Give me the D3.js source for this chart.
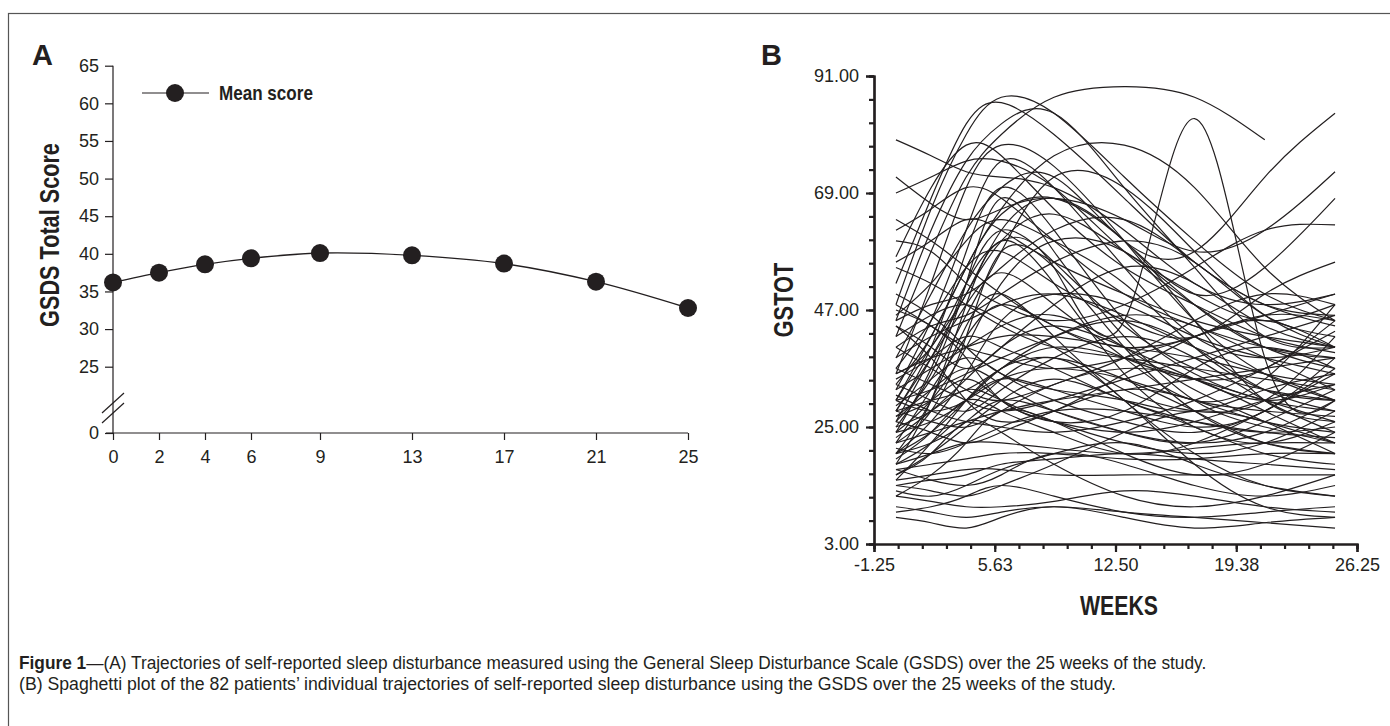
<!DOCTYPE html>
<html>
<head>
<meta charset="utf-8">
<script src="https://cdn.jsdelivr.net/npm/d3@7"></script>
<style>
  body { margin: 0; background: #fff; }
  svg { display: block; }
  text { fill: #231f20; font-family: "Liberation Sans", Arial, sans-serif; }
</style>
</head>
<body>
<div id="chart"></div>
<script>
// panel A: mean GSDS score per assessment week
var weeksA = [0, 2, 4, 6, 9, 13, 17, 21, 25];
var meanScore = [36.2, 37.5, 38.6, 39.4, 40.1, 39.8, 38.7, 36.3, 32.8];
var yTicksA = [0, 25, 30, 35, 40, 45, 50, 55, 60, 65];

// panel B: individual trajectories (GSTOT at weeks 0,2,4,6,9,13,17,21,25)
var weeksB = [0, 2, 4, 6, 9, 13, 17, 21, 25];
var xTicksB = [-1.25, 5.625, 12.5, 19.375, 26.25];
var yTicksB = [3, 25, 47, 69, 91];
var patients = [
  [79, 76, 73, 72, 70, 62, 52, 48, 50],
  [72, 67, 64, 66, 68, 64, 58, 62, 73],
  [69, 72, 75, 75, 70, 58, 48, 40, 36],
  [64, 60, 55, 50, 44, 40, 42, 46, 45],
  [57, 70, 78, 76, 66, 55, 48, 42, 39],
  [52, 68, 82, 86, 80, 68, 56, 48, 44],
  [48, 66, 80, 87, 84, 72, 60, 50, 45],
  [45, 62, 75, 82, 84, 70, 55, 42, 40],
  [42, 58, 72, 80, 87, 89, 87, 79, null],
  [38, 50, 62, 70, 72, 60, 58, 72, 84],
  [35, 52, 70, 78, 74, 60, 45, 35, 30],
  [32, 45, 62, 75, 70, 55, 42, 38, 40],
  [30, 42, 55, 65, 68, 60, 50, 55, 68],
  [28, 40, 58, 70, 62, 45, 35, 30, 28],
  [26, 38, 50, 60, 65, 58, 50, 45, 48],
  [25, 35, 52, 68, 58, 42, 30, 25, 22],
  [24, 30, 40, 52, 60, 58, 48, 40, 38],
  [22, 28, 42, 58, 55, 40, 28, 22, 20],
  [20, 26, 35, 45, 50, 48, 42, 38, 35],
  [18, 30, 48, 60, 52, 35, 25, 22, 26],
  [35, 40, 52, 60, 55, 45, 83, 38, 30],
  [45, 48, 50, 55, 62, 64, 56, 48, 46],
  [60, 58, 52, 48, 45, 48, 55, 62, 63],
  [55, 52, 48, 44, 40, 38, 36, 34, 32],
  [50, 46, 40, 35, 32, 30, 28, 32, 35],
  [47, 44, 38, 30, 26, 24, 26, 30, 33],
  [44, 38, 30, 26, 28, 35, 42, 45, 40],
  [42, 46, 48, 45, 40, 32, 28, 30, 42],
  [40, 36, 32, 30, 33, 38, 45, 50, 48],
  [38, 42, 45, 48, 50, 46, 40, 35, 30],
  [36, 33, 30, 28, 30, 34, 38, 42, 46],
  [34, 38, 42, 40, 36, 30, 26, 24, 25],
  [33, 30, 28, 32, 38, 42, 38, 30, 24],
  [32, 36, 40, 44, 46, 40, 32, 26, 20],
  [31, 28, 26, 25, 24, 26, 30, 36, 43],
  [30, 32, 35, 38, 42, 45, 40, 32, 28],
  [29, 34, 38, 35, 30, 26, 24, 28, 36],
  [28, 26, 25, 28, 33, 36, 34, 28, 22],
  [28, 30, 32, 36, 40, 38, 34, 30, 26],
  [27, 32, 36, 33, 28, 24, 22, 24, 30],
  [26, 24, 22, 24, 28, 32, 30, 26, 24],
  [25, 28, 32, 30, 26, 22, 20, 22, 28],
  [24, 26, 30, 34, 32, 28, 25, 28, 38],
  [23, 28, 34, 40, 44, 40, 34, 30, 33],
  [22, 24, 26, 28, 30, 32, 34, 36, 38],
  [21, 20, 22, 25, 28, 28, 26, 24, 23],
  [20, 22, 26, 30, 28, 24, 22, 26, 32],
  [19, 24, 30, 28, 24, 20, 22, 28, 35],
  [18, 20, 22, 22, 21, 20, 21, 22, 22],
  [17, 18, 19, 20, 20, 19, 19, 20, 20],
  [16, 20, 25, 30, 34, 30, 25, 20, 18],
  [15, 16, 17, 17, 16, 16, 16, 16, 16],
  [15, 22, 30, 36, 38, 34, 28, 22, 20],
  [14, 15, 16, 18, 19, 20, 19, 18, 17],
  [13, 12, 14, 17, 20, 22, 18, 14, 12],
  [12, 11, 10, 10, 11, 13, 12, 10, 9],
  [10, 9, 8, 9, 10, 9, 8, 7, 6],
  [9, 10, 12, 14, 12, 9, 8, 9, 10],
  [8, 7, 6, 8, 10, 8, 6, 7, 8],
  [20, 30, 44, 50, 42, 30, 20, 14, 12],
  [18, 22, 28, 34, 38, 30, 18, 10, 8],
  [16, 20, 26, 24, 18, 12, 10, 12, 16],
  [30, 40, 50, 62, 68, 60, 45, 30, 26],
  [33, 42, 55, 66, 76, 78, 70, 55, 45],
  [36, 45, 55, 58, 52, 45, 42, 50, 56],
  [40, 44, 46, 50, 56, 60, 56, 46, 42],
  [44, 40, 36, 40, 48, 55, 52, 44, 40],
  [46, 52, 60, 64, 60, 52, 40, 32, 30],
  [48, 44, 40, 38, 36, 38, 42, 46, 50],
  [26, 34, 46, 58, 72, 70, 58, 46, 40],
  [24, 36, 52, 62, 56, 44, 36, 32, 30],
  [22, 32, 42, 48, 44, 38, 34, 36, 45],
  [28, 38, 48, 54, 48, 38, 30, 34, 48],
  [20, 24, 30, 36, 42, 46, 44, 38, 32],
  [30, 28, 30, 34, 36, 34, 30, 28, 27],
  [35, 38, 40, 42, 42, 40, 38, 35, 33],
  [56, 60, 64, 62, 56, 50, 45, 42, 40],
  [12, 16, 22, 28, 26, 20, 16, 18, 24],
  [14, 13, 12, 14, 18, 24, 28, 26, 22],
  [17, 15, 14, 16, 20, 18, 14, 12, 14],
  [27, 30, 34, 30, 26, 28, 36, 40, 36],
  [62, 66, 70, 68, 60, 50, 44, 40, 38]
];

var captionA = "—(A) Trajectories of self-reported sleep disturbance measured using the General Sleep Disturbance Scale (GSDS) over the 25 weeks of the study.";
var captionB = "(B) Spaghetti plot of the 82 patients’ individual trajectories of self-reported sleep disturbance using the GSDS over the 25 weeks of the study.";

var width = 1390, height = 726;
var ink = "#231f20";

var svg = d3.select("#chart").append("svg")
  .attr("width", width)
  .attr("height", height);

// the original typeface is a narrow grotesque; squeeze a regular one to the same width
function squeeze(sel, x, y, target, angle) {
  var w = sel.node().getComputedTextLength();
  sel.attr("x", 0).attr("y", 0)
    .attr("transform", "translate(" + x + "," + y + ")" + (angle ? " rotate(" + angle + ")" : "") + " scale(" + (target / w) + ",1)");
}

// figure frame (runs off the right and bottom edge)
svg.append("rect")
  .attr("x", 8.5).attr("y", 13.5)
  .attr("width", 1420).attr("height", 760)
  .attr("fill", "none").attr("stroke", "#555").attr("stroke-width", 1.2);

// ---------- panel A ----------
var xA = d3.scaleLinear().domain([0, 25]).range([113, 688]);
var yA = d3.scaleLinear().domain([0, 25, 65]).range([433, 366.7, 65.7]);

svg.append("text").attr("x", 32).attr("y", 65)
  .attr("font-size", 29).attr("font-weight", "bold").text("A");

var axA = svg.append("g").attr("transform", "translate(" + xA(0) + ",0)")
  .call(d3.axisLeft(yA).tickValues(yTicksA).tickSize(8).tickPadding(6))
  .call(g => g.select(".domain").attr("d", "M0," + yA(65) + "V" + yA(0)));
axA.selectAll("text").attr("font-size", 18).attr("font-family", null);
axA.selectAll("line, path").attr("stroke", ink).attr("stroke-width", 1.2);

var axAx = svg.append("g").attr("transform", "translate(0," + yA(0) + ")")
  .call(d3.axisBottom(xA).tickValues(weeksA).tickSize(7).tickPadding(10))
  .call(g => g.select(".domain").attr("d", "M106,0H" + xA(25)));
axAx.selectAll("text").attr("font-size", 18).attr("font-family", null);
axAx.selectAll("line, path").attr("stroke", ink).attr("stroke-width", 1.2);

// axis break marks
[0, 10].forEach(function(off) {
  svg.append("line")
    .attr("x1", 102).attr("y1", 413 + off)
    .attr("x2", 124).attr("y2", 393 + off)
    .attr("stroke", ink).attr("stroke-width", 1.2);
});

var titleA = svg.append("text")
  .attr("text-anchor", "middle")
  .attr("font-size", 27).attr("font-weight", "bold")
  .text("GSDS Total Score");
squeeze(titleA, 59, 235, 184, -90);

var meanData = weeksA.map((w, i) => [w, meanScore[i]]);
svg.append("path").datum(meanData)
  .attr("d", d3.line().x(d => xA(d[0])).y(d => yA(d[1])).curve(d3.curveCatmullRom))
  .attr("fill", "none").attr("stroke", ink).attr("stroke-width", 1.4);

svg.selectAll(".meanDot").data(meanData).enter().append("circle")
  .attr("class", "meanDot")
  .attr("cx", d => xA(d[0])).attr("cy", d => yA(d[1]))
  .attr("r", 9).attr("fill", ink);

// legend
svg.append("line").attr("x1", 142).attr("x2", 209).attr("y1", 93).attr("y2", 93)
  .attr("stroke", ink).attr("stroke-width", 1.2);
svg.append("circle").attr("cx", 175).attr("cy", 93).attr("r", 9).attr("fill", ink);
var legText = svg.append("text")
  .attr("font-size", 20).attr("font-weight", "bold").text("Mean score");
squeeze(legText, 219, 100, 94);

// ---------- panel B ----------
var xB = d3.scaleLinear().domain([-1.25, 26.25]).range([874, 1357]);
var yB = d3.scaleLinear().domain([3, 91]).range([544, 76]);
var fmt2 = d => d.toFixed(2);

svg.append("text").attr("x", 761).attr("y", 65)
  .attr("font-size", 29).attr("font-weight", "bold").text("B");

var minorX = d3.range(21).map(i => -1.25 + i * 1.375);
var minorY = d3.range(21).map(i => 3 + i * 4.4);

var gBy = svg.append("g").attr("transform", "translate(" + xB(-1.25) + ",0)");
gBy.append("g").call(d3.axisLeft(yB).tickValues(minorY).tickSize(5).tickFormat(""));
gBy.append("g").call(d3.axisLeft(yB).tickValues(yTicksB).tickSize(8).tickPadding(7).tickFormat(fmt2));
gBy.selectAll("text").attr("font-size", 18).attr("font-family", null);
gBy.selectAll("line, path").attr("stroke", ink).attr("stroke-width", 2.2);

var gBx = svg.append("g").attr("transform", "translate(0," + yB(3) + ")");
gBx.append("g").call(d3.axisBottom(xB).tickValues(minorX).tickSize(5).tickFormat(""));
gBx.append("g").call(d3.axisBottom(xB).tickValues(xTicksB).tickSize(8).tickPadding(6).tickFormat(fmt2));
gBx.selectAll("text").attr("font-size", 18).attr("font-family", null);
gBx.selectAll("line, path").attr("stroke", ink).attr("stroke-width", 2.2);

var titleBy = svg.append("text")
  .attr("text-anchor", "middle")
  .attr("font-size", 27).attr("font-weight", "bold")
  .text("GSTOT");
squeeze(titleBy, 793, 300, 75, -90);

var titleBx = svg.append("text")
  .attr("text-anchor", "middle")
  .attr("font-size", 27).attr("font-weight", "bold")
  .text("WEEKS");
squeeze(titleBx, 1119, 615, 78);

var spaghetti = d3.line()
  .x(d => xB(d[0])).y(d => yB(d[1]))
  .curve(d3.curveNatural);

svg.append("g").selectAll("path")
  .data(patients.map(row => weeksB.map((w, i) => [w, row[i]]).filter(d => d[1] != null)))
  .enter().append("path")
  .attr("d", spaghetti)
  .attr("fill", "none").attr("stroke", ink).attr("stroke-width", 1.2);

// ---------- caption ----------
var cap1 = svg.append("text").attr("font-size", 18.5);
cap1.append("tspan").attr("font-weight", "bold").text("Figure 1");
cap1.append("tspan").text(captionA);
squeeze(cap1, 19, 669, 1188);
var cap2 = svg.append("text").attr("font-size", 18.5).text(captionB);
squeeze(cap2, 19, 690, 1098);
</script>
</body>
</html>
